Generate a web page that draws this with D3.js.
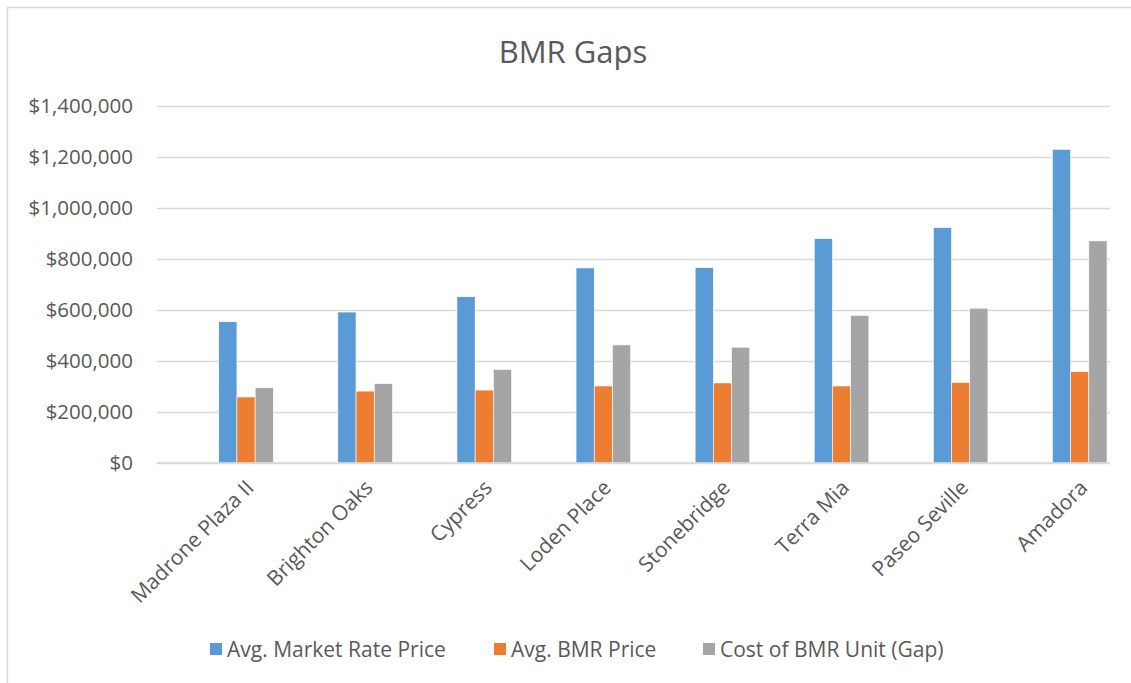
<!DOCTYPE html>
<html>
<head>
<meta charset="utf-8">
<script src="https://cdn.jsdelivr.net/npm/d3@7"></script>
<style>
  body { margin: 0; background: #fff; }
  text { font-family: "Open Sans", sans-serif; fill: #595959; }
</style>
</head>
<body>
<svg id="canvas"></svg>
<script>
// values
const projects = ['Madrone Plaza II', 'Brighton Oaks', 'Cypress', 'Loden Place', 'Stonebridge', 'Terra Mia', 'Paseo Seville', 'Amadora']
const seriesNames = ['Avg. Market Rate Price', 'Avg. BMR Price', 'Cost of BMR Unit (Gap)']
const marketRate = [554000, 592000, 652000, 765000, 766000, 880000, 923000, 1230000]
const bmrPrice = [259000, 282000, 286000, 302000, 314000, 302000, 316000, 358000]
const gapCost = [295000, 311000, 367000, 463000, 454000, 579000, 607000, 871000]
const yTicks = [0, 200000, 400000, 600000, 800000, 1000000, 1200000, 1400000]
const colors = ['#5B9BD5', '#ED7D31', '#A5A5A5']

let width = 1131,
height = 683

let canvas = d3.select('#canvas')
.attr('width', width)
.attr('height', height)

let plotLeft = 157,
plotRight = 1110,
plotTop = 106,
plotBottom = 463

// chart border
canvas.append('rect')
.attr('x', 7.5).attr('y', 7.5)
.attr('width', width + 20).attr('height', height + 20)
.attr('fill', 'none')
.attr('stroke', '#D9D9D9')
.attr('stroke-width', 1.5)

canvas.append('text')
.attr('x', 573).attr('y', 63)
.attr('text-anchor', 'middle')
.style('font-size', '31px')
.text('BMR Gaps')

let x = d3.scaleBand()
.domain(projects)
.range([plotLeft, plotRight])
.paddingInner(0.5416)
.paddingOuter(0.2717)
.align(0.954)

let xInner = d3.scaleBand()
.domain(seriesNames)
.range([0, x.bandwidth()])

let y = d3.scaleLinear()
.domain([0, 1400000])
.range([plotBottom, plotTop])

// gridlines + tick labels
let yAxis = d3.axisLeft(y)
.tickValues(yTicks)
.tickSize(-(plotRight - plotLeft))
.tickPadding(24)
.tickFormat(d => '$' + d3.format(',')(d))

let gy = canvas.append('g')
.attr('transform', `translate(${plotLeft},0)`)
.call(yAxis)

gy.select('.domain').remove()
gy.selectAll('.tick line')
.attr('stroke', '#D9D9D9')
.attr('stroke-width', 1.3)
gy.selectAll('.tick text')
.style('font-size', '20.5px')
.attr('fill', '#595959')
.style('font-family', '"Open Sans", sans-serif')

let seriesData = [marketRate, bmrPrice, gapCost]

let groups = canvas.selectAll('.series')
.data(seriesNames)
.enter().append('g')
.attr('class', 'series')
.attr('fill', (d, i) => colors[i])

groups.selectAll('rect')
.data((s, si) => projects.map((p, pi) => ({project: p, series: s, value: seriesData[si][pi]})))
.enter().append('rect')
.attr('x', d => x(d.project) + xInner(d.series))
.attr('width', xInner.bandwidth())
.attr('y', d => y(d.value))
.attr('height', d => y(0) - y(d.value))
.attr('stroke', '#fff')
.attr('stroke-width', 0.6)

// zero line on top of bars
canvas.append('line')
.attr('x1', plotLeft).attr('x2', plotRight)
.attr('y1', y(0)).attr('y2', y(0))
.attr('stroke', '#D9D9D9')
.attr('stroke-width', 1.5)

// rotated category labels
canvas.selectAll('.cat')
.data(projects)
.enter().append('text')
.attr('class', 'cat')
.attr('text-anchor', 'end')
.attr('transform', d => `translate(${x(d) + x.bandwidth() / 2 + 9},489) rotate(-45)`)
.style('font-size', '21px')
.text(d => d)

// legend
let legendX = [210, 494, 703]
let legend = canvas.selectAll('.legend')
.data(seriesNames)
.enter().append('g')
.attr('class', 'legend')
.attr('transform', (d, i) => `translate(${legendX[i]},643)`)

legend.append('rect')
.attr('width', 12).attr('height', 12)
.attr('fill', (d, i) => colors[i])

legend.append('text')
.attr('x', 17).attr('y', 14)
.style('font-size', '21px')
.text(d => d)
</script>
</body>
</html>
